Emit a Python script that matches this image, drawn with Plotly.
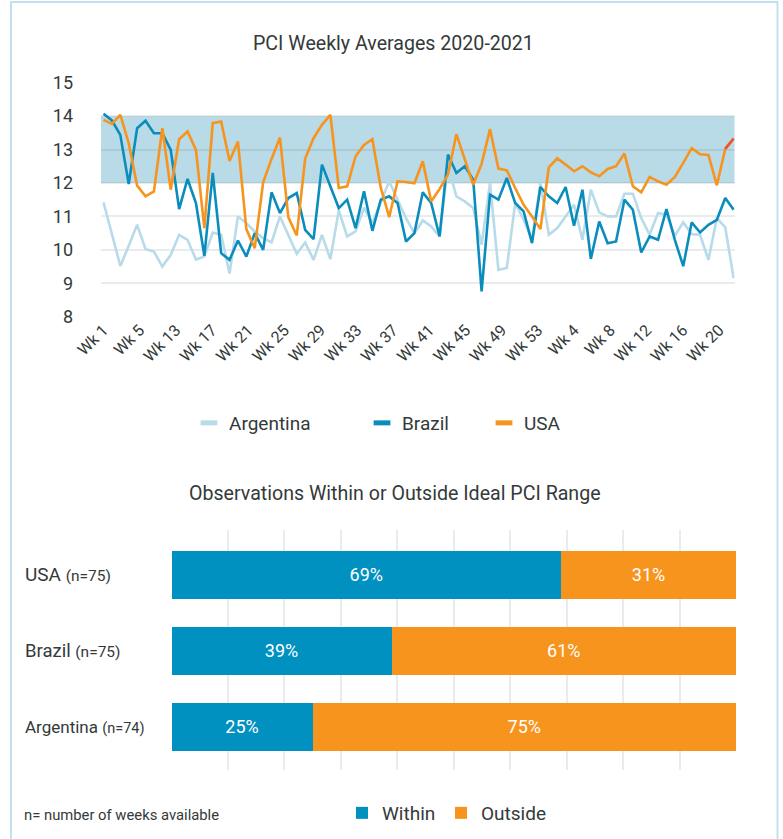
import plotly.graph_objects as go

# ---------------- data ----------------
weeks_2020 = [f"2020 Wk {w}" for w in range(1, 54)]
weeks_2021 = [f"2021 Wk {w}" for w in range(1, 24)]
weeks = weeks_2020 + weeks_2021

tick_labels = ["Wk 1", "Wk 5", "Wk 13", "Wk 17", "Wk 21", "Wk 25", "Wk 29", "Wk 33",
               "Wk 37", "Wk 41", "Wk 45", "Wk 49", "Wk 53", "Wk 4", "Wk 8", "Wk 12",
               "Wk 16", "Wk 20"]

argentina = [11.42, 10.48, 9.52, 10.12, 10.75, 10.02, 9.95, 9.50, 9.85, 10.45,
             10.30, 9.71, 9.80, 10.52, 10.45, 9.29, 11.00, 10.80, 10.55, 10.35,
             10.22, 11.00, 10.45, 9.88, 10.22, 9.70, 10.45, 9.72, 11.18, 10.40,
             10.55, 11.26, 10.80, 11.45, 12.05, 11.50, 10.95, 10.50, 10.88, 10.70,
             10.40, 12.52, 11.60, 11.45, 11.25, 10.15, 12.00, 9.40, 9.46, 11.40,
             10.90, 10.30, 12.00, 10.45, 10.65, 11.00, 11.35, 10.30, 11.80, 11.12,
             11.00, 11.00, 11.68, 11.68, 10.95, 10.45, 11.10, 11.05, 10.42, 10.82,
             10.47, 10.45, 9.70, 10.95, 10.67, 9.15]

brazil = [14.07, 13.87, 13.44, 11.97, 13.64, 13.86, 13.49, 13.49, 12.99, 11.22,
          12.12, 11.40, 9.82, 12.30, 9.90, 9.70, 10.28, 9.80, 10.50, 10.00,
          11.72, 11.10, 11.55, 11.70, 10.60, 10.32, 12.55, 11.90, 11.25, 11.50,
          10.65, 11.75, 10.57, 11.50, 11.60, 11.40, 10.25, 10.50, 11.72, 11.40,
          10.40, 12.85, 12.30, 12.50, 12.10, 8.76, 11.65, 11.50, 12.15, 11.40,
          11.15, 10.20, 11.88, 11.60, 11.40, 11.88, 10.72, 11.80, 9.73, 10.85,
          10.20, 10.25, 11.50, 11.20, 9.92, 10.40, 10.30, 11.22, 10.30, 9.51,
          10.82, 10.52, 10.75, 10.90, 11.55, 11.20]

usa = [13.89, 13.77, 14.04, 13.19, 11.92, 11.60, 11.75, 13.64, 11.80, 13.31,
       13.54, 12.99, 10.65, 13.79, 13.84, 12.66, 13.24, 10.62, 10.05, 12.02,
       12.72, 13.36, 10.97, 10.43, 12.73, 13.34, 13.74, 14.04, 11.85, 11.90,
       12.80, 13.14, 13.31, 11.86, 10.98, 12.05, 12.03, 11.99, 12.65, 11.45,
       11.82, 12.25, 13.46, 12.70, 11.95, 12.57, 13.61, 12.43, 12.38, 11.85,
       11.35, 11.00, 10.62, 12.47, 12.74, 12.55, 12.35, 12.50, 12.32, 12.20,
       12.42, 12.50, 12.88, 11.90, 11.72, 12.18, 12.05, 11.95, 12.18, 12.60,
       13.04, 12.86, 12.84, 11.93, 13.02, 13.33]

ideal_range = (12, 14)

countries = ["USA", "Brazil", "Argentina"]
n_weeks = [75, 75, 74]
within_pct = [69, 39, 25]
outside_pct = [31, 61, 75]

# ---------------- styles ----------------
FONT = "Roboto, 'Noto Sans', sans-serif"
TXT = "#333a3a"
C_ARG = "#b8dbe9"
C_BRA = "#0a8dbd"
C_USA = "#f7941d"
C_RED = "#e8572c"
C_WITHIN = "#0091c1"
C_OUTSIDE = "#f7941e"
GRID = "rgba(40,70,70,0.10)"

W, H = 783, 839
idx = list(range(len(weeks)))

fig = go.Figure()

# line traces
for name, vals, col in [("Argentina", argentina, C_ARG), ("Brazil", brazil, C_BRA), ("USA", usa, C_USA)]:
    fig.add_trace(go.Scatter(x=idx, y=vals, mode="lines", name=name, customdata=weeks,
                             hovertemplate="%{customdata}: %{y}<extra>" + name + "</extra>",
                             line=dict(color=col, width=2.6), showlegend=False,
                             xaxis="x", yaxis="y"))
fig.add_trace(go.Scatter(x=idx[-2:], y=usa[-2:], mode="lines", line=dict(color=C_RED, width=2.6),
                         showlegend=False, hoverinfo="skip", xaxis="x", yaxis="y"))

# legend entries for lines (one legend each, positioned)
leg_pos = {"Argentina": ("legend", 189), "Brazil": ("legend2", 362), "USA": ("legend3", 484)}
for name, col in [("Argentina", C_ARG), ("Brazil", C_BRA), ("USA", C_USA)]:
    fig.add_trace(go.Scatter(x=[None], y=[None], mode="markers", name=name,
                             marker=dict(symbol="line-ew", size=12, color=col,
                                         line=dict(width=5, color=col)),
                             legend=leg_pos[name][0], xaxis="x", yaxis="y"))

# bars
fig.add_trace(go.Bar(y=countries, x=within_pct, orientation="h", name="Within",
                     marker=dict(color=C_WITHIN, line=dict(width=0)),
                     text=[f"{v}%" for v in within_pct], textposition="inside",
                     insidetextanchor="middle", textfont=dict(color="white", size=18, family=FONT),
                     xaxis="x2", yaxis="y2", legend="legend4"))
fig.add_trace(go.Bar(y=countries, x=outside_pct, orientation="h", name="Outside",
                     marker=dict(color=C_OUTSIDE, line=dict(width=0)),
                     text=[f"{v}%" for v in outside_pct], textposition="inside",
                     insidetextanchor="middle", textfont=dict(color="white", size=18, family=FONT),
                     xaxis="x2", yaxis="y2", legend="legend5"))

def py(px):  # pixel-from-top to paper
    return 1 - px / H

def pxx(px):
    return px / W

legend_common = dict(orientation="h", xanchor="left", yanchor="middle",
                     bgcolor="rgba(0,0,0,0)", font=dict(size=19, color=TXT, family=FONT),
                     itemclick=False, itemdoubleclick=False)

layout_legends = {}
for name, (lk, xpx) in leg_pos.items():
    layout_legends[lk] = dict(legend_common, x=pxx(xpx), y=py(423))
layout_legends["legend4"] = dict(legend_common, x=pxx(342), y=py(813))
layout_legends["legend5"] = dict(legend_common, x=pxx(441), y=py(813))

step_ticks = [k * 4.31 for k in range(len(tick_labels))]

fig.update_layout(
    width=W, height=H,
    margin=dict(l=0, r=0, t=0, b=0, autoexpand=False),
    paper_bgcolor="white", plot_bgcolor="white",
    font=dict(family=FONT, color=TXT),
    barmode="stack", bargap=0.37,
    hovermode="closest",
    xaxis=dict(domain=[pxx(101), pxx(734.5)], range=[-0.3, 75.1],
               tickmode="array", tickvals=step_ticks, ticktext=tick_labels,
               tickangle=-45, tickfont=dict(size=16, color=TXT),
               showgrid=False, zeroline=False, showline=False, ticks=""),
    yaxis=dict(domain=[py(316.7), py(82.7)], range=[8, 15], dtick=1,
               showgrid=True, gridcolor=GRID, gridwidth=2, zeroline=False,
               tickfont=dict(size=18, color=TXT), ticklabelstandoff=27, ticks=""),
    xaxis2=dict(domain=[pxx(171.5), pxx(736)], range=[0, 100], dtick=10,
                showgrid=True, gridcolor="rgba(40,70,70,0.10)", gridwidth=1.5,
                zeroline=False, showticklabels=False, ticks="", anchor="y2"),
    yaxis2=dict(domain=[py(770), py(530)], type="category",
                categoryorder="array", categoryarray=countries[::-1],
                range=[-0.566, 2.592], showticklabels=False, showgrid=False,
                zeroline=False, ticks="", anchor="x2"),
    **layout_legends,
)

# ideal band
fig.add_shape(type="rect", xref="x domain", yref="y", x0=0, x1=1,
              y0=ideal_range[0], y1=ideal_range[1],
              fillcolor="#b9dae7", line=dict(width=0), layer="below")

# frame
fig.add_shape(type="rect", xref="paper", yref="paper", x0=pxx(11), x1=pxx(777.5),
              y0=-0.02, y1=py(2), line=dict(color="#c3e0ee", width=2), fillcolor="rgba(0,0,0,0)")

# titles & labels
fig.add_annotation(text="PCI Weekly Averages 2020-2021", xref="paper", yref="paper",
                   x=pxx(393), y=py(44), xanchor="center", yanchor="middle",
                   showarrow=False, font=dict(size=19.6, color=TXT))
fig.add_annotation(text="Observations Within or Outside Ideal PCI Range", xref="paper", yref="paper",
                   x=pxx(395), y=py(493), xanchor="center", yanchor="middle",
                   showarrow=False, font=dict(size=19.6, color=TXT))
name_sizes = {"USA": (19, 15.5), "Brazil": (18.5, 15.5), "Argentina": (17, 14.5)}
for c, n in zip(countries, n_weeks):
    big, small = name_sizes[c]
    fig.add_annotation(text=f"{c} <span style='font-size:{small}px'>(n={n})</span>",
                       xref="paper", yref="y2", x=pxx(23), y=c, xanchor="left", yanchor="middle",
                       showarrow=False, font=dict(size=big, color=TXT))
fig.add_annotation(text="n= number of weeks available", xref="paper", yref="paper",
                   x=pxx(22), y=py(815), xanchor="left", yanchor="middle", showarrow=False,
                   font=dict(size=14.8, color=TXT))

fig.write_html("out.html", post_script="document.body.style.margin='0px';",
               config={"displayModeBar": False})
